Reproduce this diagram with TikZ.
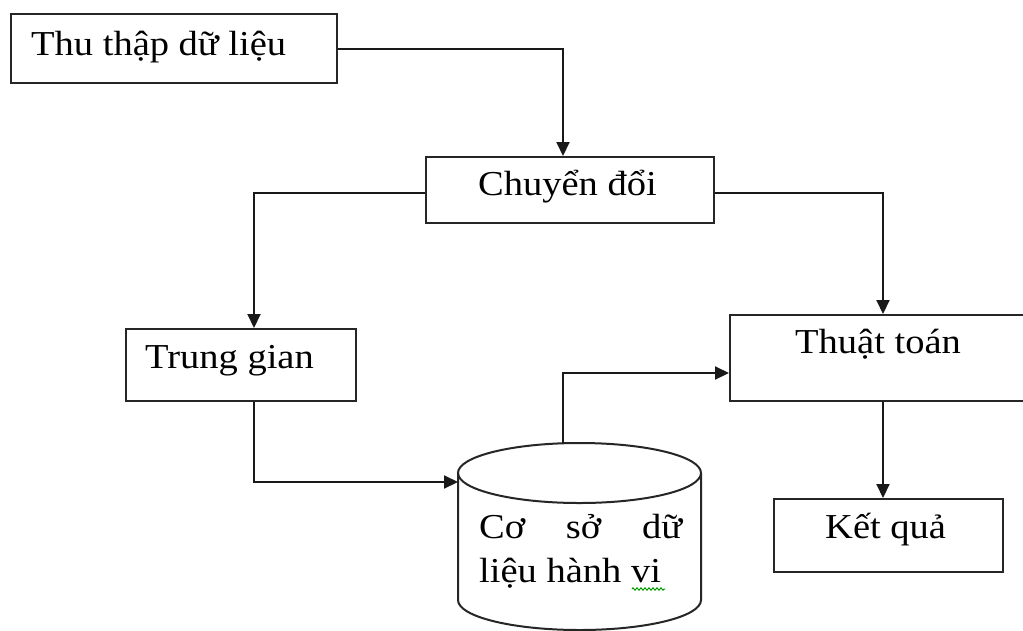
\documentclass[tikz,border=0pt]{standalone}
\usepackage{fontspec}
\setmainfont{Liberation Serif}[FakeStretch=1.1]
\usetikzlibrary{arrows.meta,decorations.pathmorphing}
\begin{document}
\begin{tikzpicture}[x=1pt,y=-1pt,
  box/.style={draw=black!85, line width=2pt, anchor=north west, inner sep=0pt},
  txt/.style={anchor=base west, inner sep=0pt, font=\fontsize{35}{42}\selectfont, text=black},
  conn/.style={draw=black!90, line width=2pt},
  arr/.style={conn, -{Triangle[length=14pt,width=13pt]}}]
\useasboundingbox (0,0) rectangle (1023,630);
\clip (0,0) rectangle (1023,630);
\fill[white] (0,0) rectangle (1023,630);
% boxes
\node[box, minimum width=326pt, minimum height=69pt] (thu) at (10,13) {};
\node[box, minimum width=288pt, minimum height=66pt] (chuyen) at (425,156) {};
\node[box, minimum width=230pt, minimum height=72pt] (trung) at (125,328) {};
\node[box, minimum width=306pt, minimum height=86pt] (thuat) at (729,314) {};
\node[box, minimum width=229pt, minimum height=73pt] (ket) at (773,498) {};
% cylinder
\draw[draw=black!85, line width=2pt] (579.5,473) ellipse [x radius=121.5, y radius=30];
\draw[draw=black!85, line width=2pt] (458,473) -- (458,600) arc[start angle=180, end angle=0, x radius=121.5, y radius=30] -- (701,473);
\coordinate (dbtop) at (563,443);
\coordinate (dbleft) at (458,482);
% texts
\node[txt] (t1) at (31,55) {Thu thập dữ liệu};
\node[txt] (t2) at (478,195) {Chuyển đổi};
\node[txt] (t3) at (145,368) {Trung gian};
\node[txt] (t4) at (795,353) {Thuật toán};
\node[txt] (t5) at (825,538) {Kết quả};
\node[txt] (t6) at (479,538) {\hbox to 203pt{Cơ\hfill sở\hfill dữ}};
\node[txt] (t7) at (479,582) {liệu hành vi};
\draw[green!60!black, line width=1pt, decorate, decoration={zigzag, segment length=4pt, amplitude=1.2pt}] (632,589) -- (665,589);
% connectors
\draw[arr] (thu.east) -| ([xshift=-7pt]chuyen.north);
\draw[arr] ([yshift=-3pt]chuyen.west) -| ([xshift=13pt]trung.north);
\draw[arr] ([yshift=-3pt]chuyen.east) -| (thuat.north);
\draw[arr] ([xshift=13pt]trung.south) |- (dbleft);
\draw[arr] (dbtop) |- ([yshift=-15pt]thuat.west);
\draw[arr] (thuat.south) -- (thuat.south |- ket.north);
\end{tikzpicture}
\end{document}
